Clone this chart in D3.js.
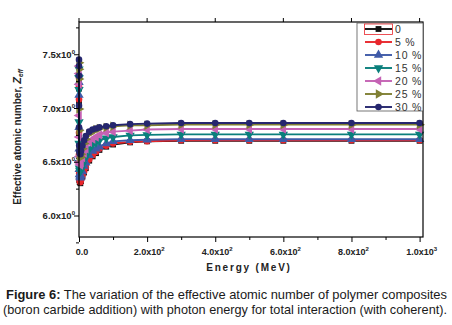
<!DOCTYPE html>
<html>
<head>
<meta charset="utf-8">
<script src="https://cdn.jsdelivr.net/npm/d3@7"></script>
<style>
  body { margin: 0; background: #fff; }
  svg { display: block; font-family: "Liberation Sans", Arial, sans-serif; }
</style>
</head>
<body>
<div class="chart"></div>
<script>
"use strict";

// photon energy, MeV
const energies = [0.001, 0.005, 0.01, 0.05, 0.1, 0.5, 1, 2, 4, 6, 10, 15, 20, 30, 40, 50, 60, 80,
                  100, 150, 200, 300, 400, 500, 600, 800, 1000];

// effective atomic number, one array per B4C content
const zeff0  = [7.25, 7.18, 7.05, 6.75, 6.55, 6.38, 6.33, 6.31, 6.30, 6.32, 6.36, 6.40, 6.44, 6.51, 6.55, 6.58, 6.61, 6.64,
                6.66, 6.68, 6.69, 6.695, 6.695, 6.695, 6.695, 6.695, 6.695];
const zeff5  = [7.28, 7.20, 7.08, 6.77, 6.57, 6.39, 6.34, 6.32, 6.31, 6.33, 6.37, 6.41, 6.45, 6.52, 6.56, 6.59, 6.62, 6.65,
                6.67, 6.685, 6.69, 6.70, 6.70, 6.70, 6.70, 6.70, 6.70];
const zeff10 = [7.32, 7.24, 7.12, 6.82, 6.62, 6.43, 6.38, 6.36, 6.35, 6.37, 6.41, 6.46, 6.49, 6.56, 6.60, 6.62, 6.64, 6.67,
                6.69, 6.70, 6.705, 6.71, 6.71, 6.71, 6.71, 6.71, 6.71];
const zeff15 = [7.36, 7.28, 7.17, 6.87, 6.67, 6.49, 6.44, 6.42, 6.41, 6.43, 6.47, 6.52, 6.55, 6.62, 6.66, 6.68, 6.70, 6.72,
                6.73, 6.745, 6.75, 6.755, 6.755, 6.755, 6.755, 6.755, 6.755];
const zeff20 = [7.39, 7.32, 7.22, 6.93, 6.73, 6.55, 6.50, 6.48, 6.47, 6.49, 6.54, 6.58, 6.62, 6.68, 6.71, 6.73, 6.75, 6.77,
                6.78, 6.79, 6.80, 6.805, 6.805, 6.805, 6.805, 6.805, 6.805];
const zeff25 = [7.42, 7.36, 7.27, 6.99, 6.79, 6.62, 6.57, 6.55, 6.54, 6.57, 6.62, 6.67, 6.71, 6.76, 6.78, 6.80, 6.81, 6.82,
                6.83, 6.84, 6.84, 6.845, 6.845, 6.845, 6.845, 6.845, 6.845];
const zeff30 = [7.45, 7.39, 7.30, 7.02, 6.82, 6.65, 6.60, 6.58, 6.57, 6.60, 6.65, 6.70, 6.74, 6.78, 6.80, 6.81, 6.82, 6.83,
                6.84, 6.85, 6.855, 6.86, 6.86, 6.86, 6.86, 6.86, 6.86];

const seriesNames = ["0", "5 %", "10 %", "15 %", "20 %", "25 %", "30 %"];

// tick labels: mantissa + power of ten
const xTickValues = [0, 200, 400, 600, 800, 1000];
const xTickLabels = [["0.0", null], ["2.0x10", "2"], ["4.0x10", "2"], ["6.0x10", "2"], ["8.0x10", "2"], ["1.0x10", "3"]];
const yTickValues = [6.0, 6.5, 7.0, 7.5];
const yTickLabels = [["6.0x10", "0"], ["6.5x10", "0"], ["7.0x10", "0"], ["7.5x10", "0"]];

const W = 452, H = 325;
const plot = { left: 79, right: 423, top: 22, bottom: 237 };

const styles = [
    { color: "#111111", shape: d3.symbolSquare,   rot: 0 },
    { color: "#e8262c", shape: d3.symbolCircle,   rot: 0 },
    { color: "#3f5aa8", shape: d3.symbolTriangle, rot: 0 },
    { color: "#0a7f7c", shape: d3.symbolTriangle, rot: 180 },
    { color: "#c562b4", shape: d3.symbolTriangle, rot: -90 },
    { color: "#808034", shape: d3.symbolTriangle, rot: 90 },
    { color: "#25266e", shape: d3.symbolCircle,   rot: 0 },
];

const series = [zeff0, zeff5, zeff10, zeff15, zeff20, zeff25, zeff30].map((vals, i) => ({
    name: seriesNames[i],
    style: styles[i],
    points: vals.map((v, j) => ({ e: energies[j], z: v })),
}));

const x = d3.scaleLinear().domain([0, 1010]).range([plot.left, plot.right]);
const y = d3.scaleLinear().domain([5.8, 7.8]).range([plot.bottom, plot.top]);

const svg = d3.select(".chart").append("svg")
    .attr("width", W)
    .attr("height", H);

// series
const line = d3.line().x(d => x(d.e)).y(d => y(d.z));
const markerSize = s => s.shape === d3.symbolTriangle ? 38 : 34;
const marker = s => d3.symbol().type(s.shape).size(markerSize(s))();

series.forEach(s => {
    const g = svg.append("g");
    g.append("path")
        .attr("fill", "none")
        .attr("stroke", s.style.color)
        .attr("stroke-width", 1.9)
        .attr("d", line(s.points));
    g.selectAll("path.m").data(s.points).enter().append("path")
        .attr("class", "m")
        .attr("d", marker(s.style))
        .attr("fill", s.style.color)
        .attr("transform", d => `translate(${x(d.e)},${y(d.z)}) rotate(${s.style.rot})`);
});

// frame
svg.append("rect")
    .attr("x", plot.left).attr("y", plot.top)
    .attr("width", plot.right - plot.left).attr("height", plot.bottom - plot.top)
    .attr("fill", "none").attr("stroke", "#000").attr("stroke-width", 1.2);

// axes (outward ticks, labels drawn separately for superscripts)
const xAxis = d3.axisBottom(x).tickValues(d3.range(0, 1001, 100))
    .tickSize(4).tickFormat("");
svg.append("g").attr("transform", `translate(0,${plot.bottom})`).call(xAxis)
    .call(g => g.select(".domain").remove())
    .call(g => g.selectAll(".tick line").attr("y2", d => d % 200 === 0 ? 5 : 3));

const yAxis = d3.axisLeft(y).tickValues(d3.range(5.75, 7.8, 0.25))
    .tickSize(4).tickFormat("");
svg.append("g").attr("transform", `translate(${plot.left},0)`).call(yAxis)
    .call(g => g.select(".domain").remove())
    .call(g => g.selectAll(".tick line").attr("x2", d => Math.abs(d * 2 - Math.round(d * 2)) < 1e-6 ? -5 : -3));

// top axis ticks
svg.append("g").selectAll("line").data(xTickValues).enter().append("line")
    .attr("x1", d => x(d)).attr("x2", d => x(d))
    .attr("y1", plot.top).attr("y2", plot.top - 4)
    .attr("stroke", "#000");

const addLabel = (sel, lab) => {
    sel.append("tspan").text(lab[0]);
    if (lab[1] !== null) {
        sel.append("tspan").attr("dy", -4).attr("font-size", 6).text(lab[1]);
    }
};

xTickValues.forEach((v, i) => {
    const t = svg.append("text")
        .attr("x", x(v) + (i === 0 ? 3 : 2)).attr("y", plot.bottom + 18)
        .attr("text-anchor", "middle")
        .attr("font-size", 9).attr("font-weight", "bold").attr("fill", "#222");
    addLabel(t, xTickLabels[i]);
});

yTickValues.forEach((v, i) => {
    const t = svg.append("text")
        .attr("x", plot.left - 4).attr("y", y(v) + 3.5)
        .attr("text-anchor", "end")
        .attr("font-size", 9.5).attr("font-weight", "bold").attr("fill", "#222");
    addLabel(t, yTickLabels[i]);
});

// axis titles
svg.append("text")
    .attr("x", 249).attr("y", 271)
    .attr("text-anchor", "middle")
    .attr("font-size", 10).attr("font-weight", "bold").attr("fill", "#222")
    .attr("letter-spacing", 1.8)
    .text("Energy (MeV)");

const yt = svg.append("text")
    .attr("transform", `translate(21,137) rotate(-90)`)
    .attr("text-anchor", "middle")
    .attr("font-size", 10).attr("font-weight", "bold").attr("fill", "#222");
yt.append("tspan").text("Effective atomic number, ");
yt.append("tspan").attr("font-style", "italic").attr("font-size", 11).text("Z");
yt.append("tspan").attr("font-style", "italic").attr("font-size", 6.5).attr("dy", 2).text("eff");

// legend
const lg = svg.append("g");
lg.append("rect")
    .attr("x", 357).attr("y", 23).attr("width", 66).attr("height", 88)
    .attr("fill", "#fff").attr("stroke", "#555").attr("stroke-width", 0.8);
series.forEach((s, i) => {
    const ly = 29 + i * 13;
    lg.append("line")
        .attr("x1", 365).attr("x2", 392).attr("y1", ly).attr("y2", ly)
        .attr("stroke", s.style.color).attr("stroke-width", 1.9);
    lg.append("path")
        .attr("d", marker(s.style))
        .attr("fill", s.style.color)
        .attr("transform", `translate(378.5,${ly}) rotate(${s.style.rot})`);
    lg.append("text")
        .attr("x", 395).attr("y", ly + 4)
        .attr("font-size", 10.5).attr("fill", "#333")
        .attr("letter-spacing", 0.8)
        .text(s.name);
});
// selection box round first entry
lg.append("rect")
    .attr("x", 364.5).attr("y", 24).attr("width", 28).attr("height", 10.5)
    .attr("fill", "none").attr("stroke", "#e8262c").attr("stroke-width", 0.8);

// caption
const cap1 = svg.append("text").attr("x", 6).attr("y", 299).attr("font-size", 12.4).attr("fill", "#1a1a1a")
    .attr("textLength", 441).attr("lengthAdjust", "spacingAndGlyphs");
cap1.append("tspan").attr("font-weight", "bold").text("Figure 6:");
cap1.append("tspan").text(" The variation of the effective atomic number of polymer composites");
svg.append("text").attr("x", 3).attr("y", 314).attr("font-size", 12.4).attr("fill", "#1a1a1a")
    .attr("textLength", 444).attr("lengthAdjust", "spacingAndGlyphs")
    .text("(boron carbide addition) with photon energy for total interaction (with coherent).");
</script>
</body>
</html>
